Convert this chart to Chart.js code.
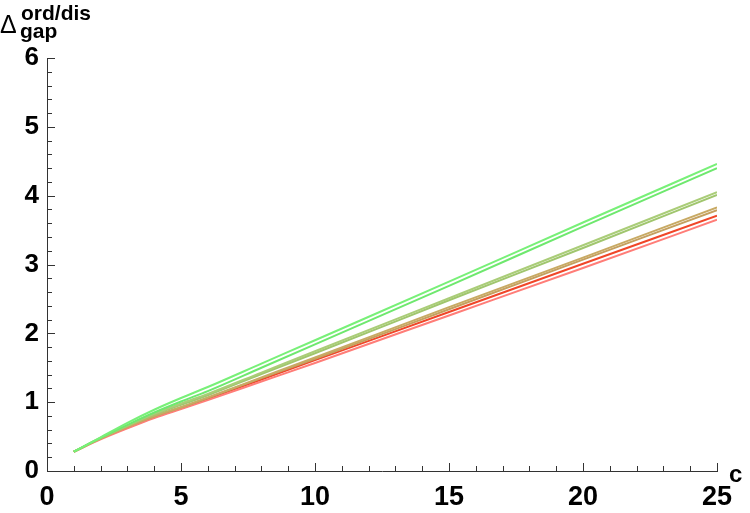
<!DOCTYPE html>
<html>
<head>
<meta charset="utf-8">
<script src="https://cdn.jsdelivr.net/npm/chart.js@4"></script>
<style>
  html, body { margin: 0; padding: 0; background: #fff; }
  #wrap { width: 750px; height: 513px; position: relative; }
</style>
</head>
<body>
<div id="wrap"><canvas id="gapChart"></canvas></div>
<script>
// values
const cValues = [1, 2, 3, 4, 5, 6, 8, 10, 15, 20, 25];

const green1 = [0.28, 0.49, 0.70, 0.89, 1.06, 1.22, 1.56, 1.90, 2.75, 3.61, 4.46];
const green2 = [0.28, 0.48, 0.67, 0.85, 1.01, 1.16, 1.50, 1.84, 2.69, 3.55, 4.40];
const olive1 = [0.28, 0.48, 0.66, 0.83, 0.98, 1.12, 1.43, 1.74, 2.51, 3.28, 4.05];
const olive2 = [0.28, 0.48, 0.66, 0.82, 0.96, 1.10, 1.41, 1.71, 2.48, 3.24, 4.01];
const tan1   = [0.28, 0.47, 0.64, 0.80, 0.93, 1.07, 1.36, 1.65, 2.38, 3.10, 3.83];
const tan2   = [0.28, 0.47, 0.64, 0.79, 0.92, 1.06, 1.35, 1.63, 2.35, 3.07, 3.79];
const red1   = [0.28, 0.47, 0.63, 0.78, 0.91, 1.05, 1.33, 1.61, 2.31, 3.01, 3.71];
const red2   = [0.28, 0.46, 0.62, 0.77, 0.90, 1.03, 1.30, 1.57, 2.26, 2.95, 3.65];

const xTicks = [0, 5, 10, 15, 20, 25];
const yTicks = [0, 1, 2, 3, 4, 5, 6];

const seriesList = [
    { values: green1, color: 'rgb(120, 240, 120)' },
    { values: green2, color: 'rgb(110, 232, 110)' },
    { values: olive1, color: 'rgb(170, 205, 120)' },
    { values: olive2, color: 'rgb(160, 198, 110)' },
    { values: tan1,   color: 'rgb(200, 170, 100)' },
    { values: tan2,   color: 'rgb(196, 160, 95)' },
    { values: red2,   color: 'rgb(255, 125, 120)' },
    { values: red1,   color: 'rgb(240, 70, 40)' }
];

const FONT = '"Liberation Sans", Arial, sans-serif';

// inward tick marks, axis label "c" and the Δ title
const decorPlugin = {
    id: 'decor',
    afterDraw(chart) {
        const { ctx, chartArea } = chart;
        const xs = chart.scales.x;
        const ys = chart.scales.y;
        ctx.save();
        ctx.strokeStyle = '#333';
        ctx.lineWidth = 1;
        ctx.beginPath();
        for (let v = 0; v <= 25; v++) {
            const px = Math.round(xs.getPixelForValue(v)) + 0.5;
            const len = v % 5 === 0 ? 8 : 5;
            ctx.moveTo(px, chartArea.bottom);
            ctx.lineTo(px, chartArea.bottom - len);
        }
        for (let i = 0; i <= 30; i++) {
            const py = Math.round(ys.getPixelForValue(i / 5)) + 0.5;
            const len = i % 5 === 0 ? 8 : 5;
            ctx.moveTo(chartArea.left, py);
            ctx.lineTo(chartArea.left + len, py);
        }
        ctx.stroke();

        ctx.fillStyle = '#000';
        ctx.textBaseline = 'alphabetic';
        ctx.textAlign = 'left';
        ctx.font = 'bold 24px ' + FONT;
        ctx.fillText('c', 729, 482);

        ctx.font = '25px ' + FONT;
        ctx.fillText('\u0394', 0, 33);
        ctx.font = 'bold 21px ' + FONT;
        ctx.fillText('gap', 20, 38);
        ctx.fillText('ord/dis', 21, 20);
        ctx.restore();
    }
};

new Chart(document.getElementById('gapChart'), {
    type: 'line',
    data: {
        datasets: seriesList.map(s => ({
            data: cValues.map((c, i) => ({ x: c, y: s.values[i] })),
            borderColor: s.color,
            borderWidth: 2,
            pointRadius: 0,
            fill: false,
            cubicInterpolationMode: 'monotone'
        }))
    },
    options: {
        responsive: true,
        maintainAspectRatio: false,
        animation: false,
        layout: { padding: { top: 58, right: 33, left: 0, bottom: 0 } },
        plugins: { legend: { display: false }, tooltip: { enabled: false } },
        scales: {
            x: {
                type: 'linear',
                min: 0,
                max: 25,
                afterBuildTicks: scale => { scale.ticks = xTicks.map(v => ({ value: v })); },
                afterFit: scale => { scale.height = 42; },
                grid: { display: false, drawTicks: false },
                border: { display: true, color: '#333', width: 1 },
                ticks: {
                    color: '#000',
                    padding: 10,
                    font: { family: FONT, size: 27, weight: 'bold' }
                }
            },
            y: {
                type: 'linear',
                min: 0,
                max: 6,
                afterBuildTicks: scale => { scale.ticks = yTicks.map(v => ({ value: v })); },
                afterFit: scale => { scale.width = 47; },
                grid: { display: false, drawTicks: false },
                border: { display: true, color: '#333', width: 1 },
                ticks: {
                    color: '#000',
                    padding: 8,
                    font: { family: FONT, size: 26, weight: 'bold' }
                }
            }
        }
    },
    plugins: [decorPlugin]
});
</script>
</body>
</html>
